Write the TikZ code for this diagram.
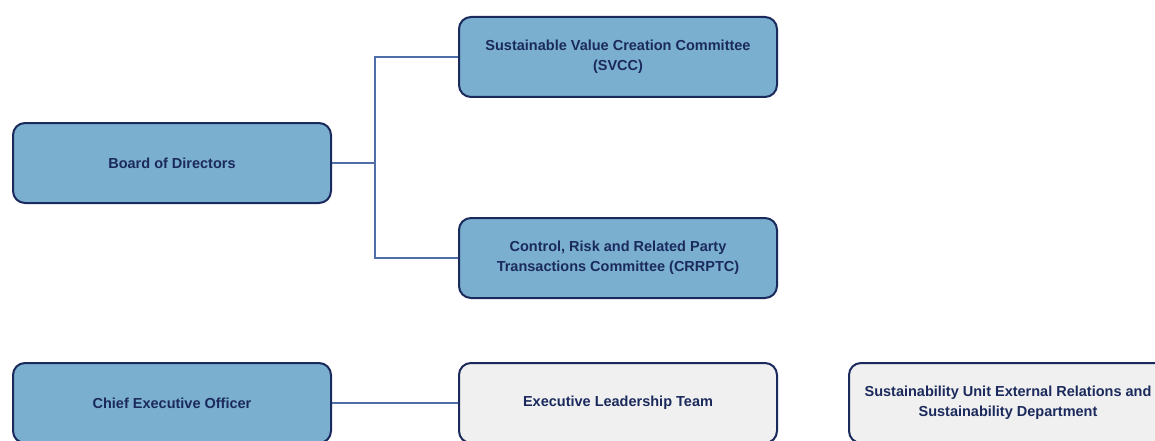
\documentclass[tikz,border=0pt]{standalone}
\usepackage{fontspec}
\setmainfont{Liberation Sans}
\usepackage{tikz}
\usetikzlibrary{positioning}
\definecolor{boxblue}{HTML}{7AAFCF}
\definecolor{boxgrey}{HTML}{F0F0F0}
\definecolor{navy}{HTML}{1B2A5C}
\definecolor{linkblue}{HTML}{4F6FA8}

\tikzset{
  govbox/.style={draw=navy, line width=2pt, rounded corners=12pt, fill=boxblue,
    minimum width=318pt, minimum height=80pt, inner sep=0pt, align=center,
    text=navy, font=\fontsize{14.5}{20}\selectfont\bfseries},
  mgmtbox/.style={govbox, fill=boxgrey},
  link/.style={draw=linkblue, line width=1.2pt}
}

\begin{document}
\begin{tikzpicture}
  \clip (0,0) rectangle (1155pt,-441pt);
  \node[govbox] at (172pt,-163pt) (board) {Board of Directors};
  \node[govbox, above right = 24pt and 126pt of board] (svcc) {Sustainable Value Creation Committee\\(SVCC)};
  \node[govbox, below right = 13pt and 126pt of board] (crrptc) {Control, Risk and Related Party\\Transactions Committee (CRRPTC)};
  \node[govbox, below=158pt of board] (ceo) {Chief Executive Officer};
  \node[mgmtbox, right=126pt of ceo] (elt) {Executive Leadership Team};
  \node[mgmtbox, right=70pt of elt] (sust) {Sustainability Unit External Relations and\\Sustainability Department};
  \coordinate[right=43pt of board] (fork);

  \draw[link] (board.east) -- (fork);
  \draw[link] (fork) |- (svcc.west);
  \draw[link] (fork) |- (crrptc.west);
  \draw[link] (ceo) -- (elt);
\end{tikzpicture}
\end{document}
